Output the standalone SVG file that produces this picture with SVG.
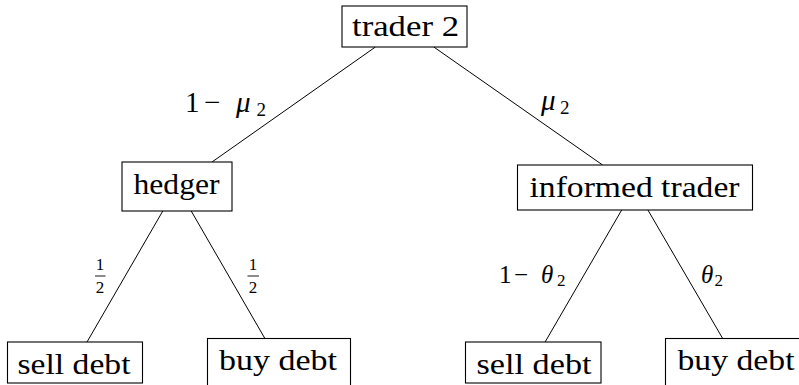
<svg xmlns="http://www.w3.org/2000/svg" width="799" height="385" viewBox="0 0 799 385">
  <style>
    .box { fill: #ffffff; stroke: #000000; stroke-width: 1.1; }
    .edge { stroke: #000000; stroke-width: 1; fill: none; }
  </style>
  <rect width="799" height="385" fill="#ffffff"/>

  <!-- connectors -->
  <g id="edges">
    <line class="edge" x1="375.4" y1="47" x2="212" y2="162"/>
    <line class="edge" x1="433.8" y1="47" x2="602.6" y2="165"/>
    <line class="edge" x1="162.8" y1="211" x2="87" y2="342"/>
    <line class="edge" x1="191.2" y1="211" x2="264.9" y2="338.5"/>
    <line class="edge" x1="621.7" y1="210" x2="545.1" y2="342"/>
    <line class="edge" x1="647.9" y1="210" x2="722.7" y2="338.5"/>
  </g>

  <!-- all text in one serif face -->
  <g font-family="Liberation Serif, DejaVu Serif, serif" fill="#000000">
    <!-- edge labels -->
    <g id="edge-labels">
      <text y="112" font-size="29"><tspan x="185">1</tspan><tspan x="204">−</tspan><tspan x="236" font-style="italic">μ</tspan><tspan x="256.5" y="116" font-size="19">2</tspan></text>
      <text y="110" font-size="29"><tspan x="541" font-style="italic">μ</tspan><tspan x="560" y="114" font-size="19">2</tspan></text>

      <text x="100" y="269.5" font-size="17" text-anchor="middle">1</text>
      <line x1="95" y1="276" x2="105.5" y2="276" stroke="#000" stroke-width="0.9"/>
      <text x="100" y="293" font-size="17" text-anchor="middle">2</text>

      <text x="253" y="269.5" font-size="17" text-anchor="middle">1</text>
      <line x1="247.5" y1="276" x2="259" y2="276" stroke="#000" stroke-width="0.9"/>
      <text x="253" y="293" font-size="17" text-anchor="middle">2</text>

      <text y="282.7" font-size="25"><tspan x="499">1</tspan><tspan x="514">−</tspan><tspan x="541" font-style="italic">θ</tspan><tspan x="557" y="286" font-size="17">2</tspan></text>
      <text y="282.7" font-size="25"><tspan x="701" font-style="italic">θ</tspan><tspan x="714.5" y="286" font-size="17">2</tspan></text>
    </g>

    <!-- nodes -->
    <g id="trader2">
      <rect class="box" x="342" y="6" width="125" height="41"/>
      <text x="405.5" y="36" font-size="29" text-anchor="middle" textLength="107" lengthAdjust="spacingAndGlyphs">trader 2</text>
    </g>
    <g id="hedger">
      <rect class="box" x="122" y="162" width="110" height="49"/>
      <text x="176.5" y="194" font-size="29" text-anchor="middle" textLength="86" lengthAdjust="spacingAndGlyphs">hedger</text>
    </g>
    <g id="informed">
      <rect class="box" x="517.5" y="165" width="235" height="45"/>
      <text x="634.5" y="196.5" font-size="29" text-anchor="middle" textLength="210" lengthAdjust="spacingAndGlyphs">informed trader</text>
    </g>
    <g id="hedger-sell">
      <rect class="box" x="7.5" y="342" width="135" height="41"/>
      <text x="74" y="374" font-size="29" text-anchor="middle" textLength="113" lengthAdjust="spacingAndGlyphs">sell debt</text>
    </g>
    <g id="hedger-buy">
      <rect class="box" x="207.5" y="338.5" width="143" height="49"/>
      <text x="278" y="370" font-size="29" text-anchor="middle" textLength="118" lengthAdjust="spacingAndGlyphs">buy debt</text>
    </g>
    <g id="informed-sell">
      <rect class="box" x="465.5" y="342" width="135.5" height="41"/>
      <text x="534" y="374" font-size="29" text-anchor="middle" textLength="115" lengthAdjust="spacingAndGlyphs">sell debt</text>
    </g>
    <g id="informed-buy">
      <rect class="box" x="665.5" y="338.5" width="143" height="49"/>
      <text x="736" y="370" font-size="29" text-anchor="middle" textLength="117" lengthAdjust="spacingAndGlyphs">buy debt</text>
    </g>
  </g>
</svg>
